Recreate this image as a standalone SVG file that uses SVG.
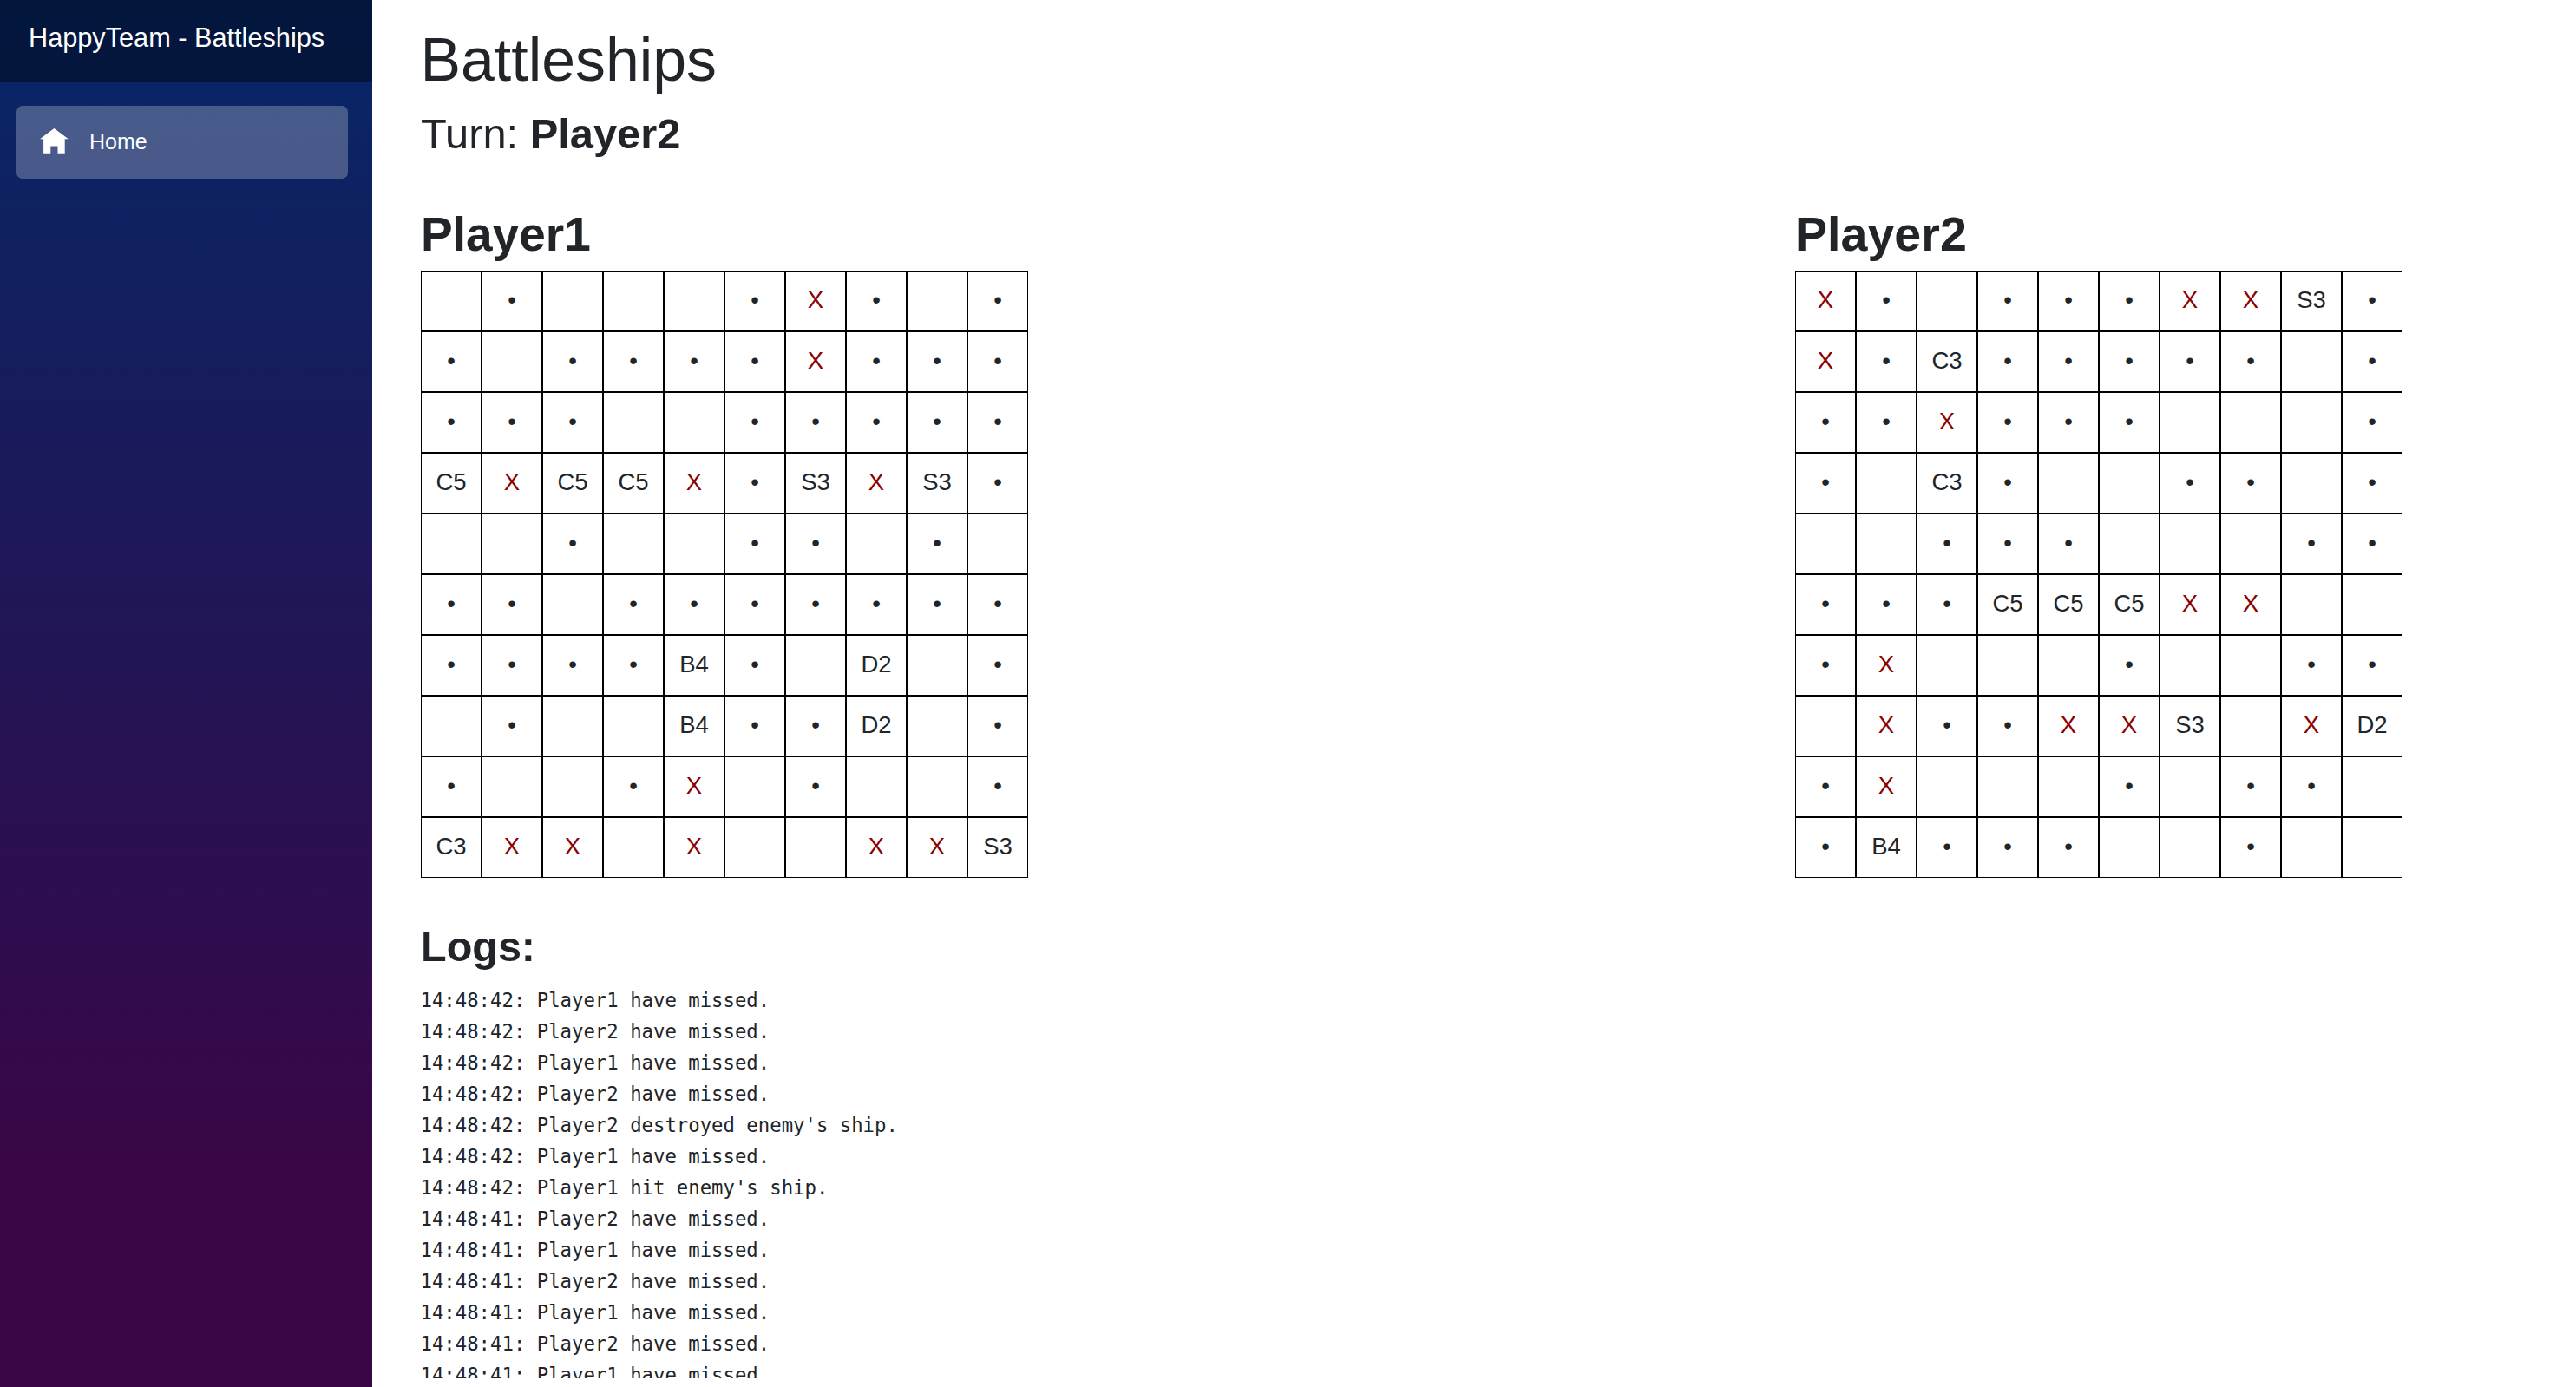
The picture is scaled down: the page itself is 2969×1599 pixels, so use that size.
<svg xmlns="http://www.w3.org/2000/svg" width="2969" height="1599" viewBox="0 0 2969 1599">
<style>
text{font-family:"Liberation Sans",Arial,sans-serif;fill:#212529}
.c{font-size:27.5px;text-anchor:middle}
.x{fill:#8b0000}
.m{font-family:"DejaVu Sans Mono","Liberation Mono",monospace;font-size:22.3px}
.h{font-weight:bold}
.g{fill:none;stroke:#000;shape-rendering:crispEdges}
</style>
<defs>
<linearGradient id="side" x1="0" y1="0" x2="0" y2="1"><stop offset="0" stop-color="#052767"/><stop offset="0.85" stop-color="#3a0647"/></linearGradient>
<clipPath id="logclip"><rect x="470" y="1130" width="700" height="459"/></clipPath>
</defs>
<rect width="2969" height="1599" fill="#fff"/>
<g id="sidebar">
<rect width="429" height="1599" fill="url(#side)"/>
<rect width="429" height="94" fill="#000" fill-opacity="0.4"/>
<text x="33" y="54" font-size="30.7" style="fill:#fff">HappyTeam - Battleships</text>
<rect x="19" y="122" width="382" height="84" rx="7" fill="#fff" fill-opacity="0.25"/>
<path transform="translate(46 148) scale(4.1)" fill="#fff" d="M4 0l-4 3h1v4h2v-2h2v2h2v-4.03l1 .03-4-3z"/>
<text x="103" y="172" font-size="25" style="fill:#fff">Home</text>
</g>
<g id="header">
<text x="484.500" y="93" font-size="69.8">Battleships</text>
<text x="485" y="171" font-size="48.8">Turn: <tspan font-weight="bold">Player2</tspan></text>
</g>
<g id="board1">
<text class="h" x="485" y="289" font-size="55">Player1</text>
<path class="g" stroke-width="2" d="M555 312V1012M625 312V1012M695 312V1012M765 312V1012M835 312V1012M905 312V1012M975 312V1012M1045 312V1012M1115 312V1012M485 382H1185M485 452H1185M485 522H1185M485 592H1185M485 662H1185M485 732H1185M485 802H1185M485 872H1185M485 942H1185"/>
<path class="g" stroke-width="1" d="M485.5 312.5H1184.5V1011.5H485.5Z"/>
<g transform="translate(0 -1)">
<text class="c" x="590" y="356">•</text><text class="c" x="870" y="356">•</text><text class="c x" x="940" y="356">X</text><text class="c" x="1010" y="356">•</text><text class="c" x="1150" y="356">•</text>
<text class="c" x="520" y="426">•</text><text class="c" x="660" y="426">•</text><text class="c" x="730" y="426">•</text><text class="c" x="800" y="426">•</text><text class="c" x="870" y="426">•</text><text class="c x" x="940" y="426">X</text><text class="c" x="1010" y="426">•</text><text class="c" x="1080" y="426">•</text><text class="c" x="1150" y="426">•</text>
<text class="c" x="520" y="496">•</text><text class="c" x="590" y="496">•</text><text class="c" x="660" y="496">•</text><text class="c" x="870" y="496">•</text><text class="c" x="940" y="496">•</text><text class="c" x="1010" y="496">•</text><text class="c" x="1080" y="496">•</text><text class="c" x="1150" y="496">•</text>
<text class="c" x="520" y="566">C5</text><text class="c x" x="590" y="566">X</text><text class="c" x="660" y="566">C5</text><text class="c" x="730" y="566">C5</text><text class="c x" x="800" y="566">X</text><text class="c" x="870" y="566">•</text><text class="c" x="940" y="566">S3</text><text class="c x" x="1010" y="566">X</text><text class="c" x="1080" y="566">S3</text><text class="c" x="1150" y="566">•</text>
<text class="c" x="660" y="636">•</text><text class="c" x="870" y="636">•</text><text class="c" x="940" y="636">•</text><text class="c" x="1080" y="636">•</text>
<text class="c" x="520" y="706">•</text><text class="c" x="590" y="706">•</text><text class="c" x="730" y="706">•</text><text class="c" x="800" y="706">•</text><text class="c" x="870" y="706">•</text><text class="c" x="940" y="706">•</text><text class="c" x="1010" y="706">•</text><text class="c" x="1080" y="706">•</text><text class="c" x="1150" y="706">•</text>
<text class="c" x="520" y="776">•</text><text class="c" x="590" y="776">•</text><text class="c" x="660" y="776">•</text><text class="c" x="730" y="776">•</text><text class="c" x="800" y="776">B4</text><text class="c" x="870" y="776">•</text><text class="c" x="1010" y="776">D2</text><text class="c" x="1150" y="776">•</text>
<text class="c" x="590" y="846">•</text><text class="c" x="800" y="846">B4</text><text class="c" x="870" y="846">•</text><text class="c" x="940" y="846">•</text><text class="c" x="1010" y="846">D2</text><text class="c" x="1150" y="846">•</text>
<text class="c" x="520" y="916">•</text><text class="c" x="730" y="916">•</text><text class="c x" x="800" y="916">X</text><text class="c" x="940" y="916">•</text><text class="c" x="1150" y="916">•</text>
<text class="c" x="520" y="986">C3</text><text class="c x" x="590" y="986">X</text><text class="c x" x="660" y="986">X</text><text class="c x" x="800" y="986">X</text><text class="c x" x="1010" y="986">X</text><text class="c x" x="1080" y="986">X</text><text class="c" x="1150" y="986">S3</text>
</g>
</g>
<g id="board2">
<text class="h" x="2069" y="289" font-size="55.6">Player2</text>
<path class="g" stroke-width="2" d="M2139 312V1012M2209 312V1012M2279 312V1012M2349 312V1012M2419 312V1012M2489 312V1012M2559 312V1012M2629 312V1012M2699 312V1012M2069 382H2769M2069 452H2769M2069 522H2769M2069 592H2769M2069 662H2769M2069 732H2769M2069 802H2769M2069 872H2769M2069 942H2769"/>
<path class="g" stroke-width="1" d="M2069.5 312.5H2768.5V1011.5H2069.5Z"/>
<g transform="translate(0 -1)">
<text class="c x" x="2104" y="356">X</text><text class="c" x="2174" y="356">•</text><text class="c" x="2314" y="356">•</text><text class="c" x="2384" y="356">•</text><text class="c" x="2454" y="356">•</text><text class="c x" x="2524" y="356">X</text><text class="c x" x="2594" y="356">X</text><text class="c" x="2664" y="356">S3</text><text class="c" x="2734" y="356">•</text>
<text class="c x" x="2104" y="426">X</text><text class="c" x="2174" y="426">•</text><text class="c" x="2244" y="426">C3</text><text class="c" x="2314" y="426">•</text><text class="c" x="2384" y="426">•</text><text class="c" x="2454" y="426">•</text><text class="c" x="2524" y="426">•</text><text class="c" x="2594" y="426">•</text><text class="c" x="2734" y="426">•</text>
<text class="c" x="2104" y="496">•</text><text class="c" x="2174" y="496">•</text><text class="c x" x="2244" y="496">X</text><text class="c" x="2314" y="496">•</text><text class="c" x="2384" y="496">•</text><text class="c" x="2454" y="496">•</text><text class="c" x="2734" y="496">•</text>
<text class="c" x="2104" y="566">•</text><text class="c" x="2244" y="566">C3</text><text class="c" x="2314" y="566">•</text><text class="c" x="2524" y="566">•</text><text class="c" x="2594" y="566">•</text><text class="c" x="2734" y="566">•</text>
<text class="c" x="2244" y="636">•</text><text class="c" x="2314" y="636">•</text><text class="c" x="2384" y="636">•</text><text class="c" x="2664" y="636">•</text><text class="c" x="2734" y="636">•</text>
<text class="c" x="2104" y="706">•</text><text class="c" x="2174" y="706">•</text><text class="c" x="2244" y="706">•</text><text class="c" x="2314" y="706">C5</text><text class="c" x="2384" y="706">C5</text><text class="c" x="2454" y="706">C5</text><text class="c x" x="2524" y="706">X</text><text class="c x" x="2594" y="706">X</text>
<text class="c" x="2104" y="776">•</text><text class="c x" x="2174" y="776">X</text><text class="c" x="2454" y="776">•</text><text class="c" x="2664" y="776">•</text><text class="c" x="2734" y="776">•</text>
<text class="c x" x="2174" y="846">X</text><text class="c" x="2244" y="846">•</text><text class="c" x="2314" y="846">•</text><text class="c x" x="2384" y="846">X</text><text class="c x" x="2454" y="846">X</text><text class="c" x="2524" y="846">S3</text><text class="c x" x="2664" y="846">X</text><text class="c" x="2734" y="846">D2</text>
<text class="c" x="2104" y="916">•</text><text class="c x" x="2174" y="916">X</text><text class="c" x="2454" y="916">•</text><text class="c" x="2594" y="916">•</text><text class="c" x="2664" y="916">•</text>
<text class="c" x="2104" y="986">•</text><text class="c" x="2174" y="986">B4</text><text class="c" x="2244" y="986">•</text><text class="c" x="2314" y="986">•</text><text class="c" x="2384" y="986">•</text><text class="c" x="2594" y="986">•</text>
</g>
</g>
<g id="logs">
<text class="h" x="485" y="1108" font-size="48.5">Logs:</text>
<g clip-path="url(#logclip)">
<text class="m" x="484.500" y="1161">14:48:42: Player1 have missed.</text>
<text class="m" x="484.500" y="1197">14:48:42: Player2 have missed.</text>
<text class="m" x="484.500" y="1233">14:48:42: Player1 have missed.</text>
<text class="m" x="484.500" y="1269">14:48:42: Player2 have missed.</text>
<text class="m" x="484.500" y="1305">14:48:42: Player2 destroyed enemy's ship.</text>
<text class="m" x="484.500" y="1341">14:48:42: Player1 have missed.</text>
<text class="m" x="484.500" y="1377">14:48:42: Player1 hit enemy's ship.</text>
<text class="m" x="484.500" y="1413">14:48:41: Player2 have missed.</text>
<text class="m" x="484.500" y="1449">14:48:41: Player1 have missed.</text>
<text class="m" x="484.500" y="1485">14:48:41: Player2 have missed.</text>
<text class="m" x="484.500" y="1521">14:48:41: Player1 have missed.</text>
<text class="m" x="484.500" y="1557">14:48:41: Player2 have missed.</text>
<text class="m" x="484.500" y="1593">14:48:41: Player1 have missed.</text>
</g>
</g>
</svg>
